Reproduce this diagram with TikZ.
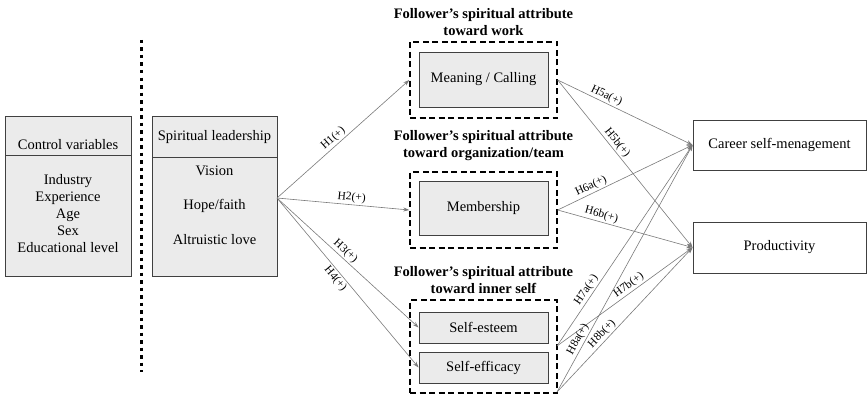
\documentclass[tikz,border=0pt]{standalone}
\usepackage{fontspec}
\setmainfont{Liberation Serif}
\usetikzlibrary{arrows.meta}
\definecolor{boxfill}{HTML}{EBEBEB}
\definecolor{boxline}{HTML}{404040}
\definecolor{conn}{HTML}{7A7A7A}
\begin{document}
\begin{tikzpicture}[x=1pt,y=-1pt,
  graybox/.style={draw=boxline, fill=boxfill, line width=0.9pt, inner sep=0pt},
  whitebox/.style={draw=boxline, fill=white, line width=0.9pt, inner sep=0pt},
  dashbox/.style={draw=black, dash pattern=on 6pt off 3.5pt, line width=1.4pt, inner sep=0pt},
  txt/.style={font=\fontsize{14.5}{17}\selectfont, inner sep=0pt},
  ttl/.style={font=\fontsize{14.5}{17}\selectfont\bfseries, align=center, inner sep=0pt},
  hyp/.style={font=\fontsize{11.5}{12}\selectfont, inner sep=1.5pt, sloped},
  conline/.style={draw=conn, line width=0.6pt},
  larrow/.style={conline, -{Stealth[length=6pt,width=4pt,fill=conn]}},
  rarrow/.style={conline, -{Stealth[length=6pt,width=4.5pt,fill=conn]}}
]
\useasboundingbox (0,0) rectangle (867,396);

% dotted divider
\draw[line width=3pt, dash pattern=on 3.5pt off 4pt] (141,40) -- (141,372);

% Control variables
\node[graybox, minimum width=126pt, minimum height=160pt] (cv) at (68,196) {};
\draw[boxline, line width=0.9pt] (5,155) -- (131,155);
\node[txt] (cvt) at (68,145) {Control variables};
\node[txt, align=center] (cvb) at (68,214) {Industry\\Experience\\Age\\Sex\\Educational level};

% Spiritual leadership
\node[graybox, minimum width=125pt, minimum height=160pt] (sl) at (214.5,196) {};
\draw[boxline, line width=0.9pt] (152,157) -- (277,157);
\node[txt] (slt) at (214.5,137) {Spiritual leadership};
\node[txt] (v1) at (214.5,171) {Vision};
\node[txt] (v2) at (214.5,205.5) {Hope/faith};
\node[txt] (v3) at (214.5,240) {Altruistic love};
\coordinate (fan) at (277,198);

% Work group
\node[ttl] (t1) at (483.5,22) {Follower’s spiritual attribute\\toward work};
\node[dashbox, minimum width=147pt, minimum height=76pt] (mo) at (483.5,80) {};
\node[graybox, minimum width=129pt, minimum height=55pt, txt] (mc) at (483.5,79.5) {Meaning / Calling};

% Organization group
\node[ttl] (t2) at (483.5,146) {Follower’s spiritual attribute\\toward organization/team};
\node[dashbox, minimum width=147pt, minimum height=76pt] (mbo) at (483.5,210) {};
\node[graybox, minimum width=129pt, minimum height=54pt, txt] (mb) at (483.5,208) {Membership};

% Inner self group
\node[ttl] (t3) at (483.5,280.5) {Follower’s spiritual attribute\\toward inner self};
\node[dashbox, minimum width=147pt, minimum height=93pt] (iso) at (483.5,346.5) {};
\node[graybox, minimum width=129pt, minimum height=31pt, txt] (se) at (483.5,327.5) {Self-esteem};
\node[graybox, minimum width=129pt, minimum height=31pt, txt] (sef) at (483.5,367.5) {Self-efficacy};
\coordinate (iso1) at (557,346);
\coordinate (iso2) at (557,392);

% Outcomes
\node[whitebox, minimum width=173pt, minimum height=50pt, txt] (csm) at (779.5,145) {Career self-menagement};
\node[whitebox, minimum width=173pt, minimum height=51pt, txt] (prod) at (779.5,247.5) {Productivity};

% Left arrows
\draw[larrow] (fan) -- node[hyp, above, pos=0.46] {H1(+)} (mo.west);
\draw[larrow] (fan) -- node[hyp, above, pos=0.56] {H2(+)} (mbo.west);
\draw[larrow] (fan) -- node[hyp, above, pos=0.45] {H3(+)} (se.west);
\draw[larrow] (fan) -- node[hyp, below, pos=0.45] {H4(+)} (sef.west);

% Right arrows
\draw[rarrow] (mo.east) -- node[hyp, above, pos=0.34] {H5a(+)} (csm.west);
\draw[rarrow] (mo.east) -- node[hyp, above, pos=0.40] {H5b(+)} (prod.west);
\draw[rarrow] (mbo.east) -- node[hyp, above, pos=0.27] {H6a(+)} (csm.west);
\draw[rarrow] (mbo.east) -- node[hyp, above, pos=0.31] {H6b(+)} (prod.west);
\draw[rarrow] (iso1) -- node[hyp, above, pos=0.26] {H7a(+)} (csm.west);
\draw[rarrow] (iso1) -- node[hyp, above, pos=0.56] {H7b(+)} (prod.west);
\draw[rarrow] (iso2) -- node[hyp, above, pos=0.20] {H8a(+)} (csm.west);
\draw[rarrow] (iso2) -- node[hyp, above, pos=0.37] {H8b(+)} (prod.west);
\end{tikzpicture}
\end{document}
